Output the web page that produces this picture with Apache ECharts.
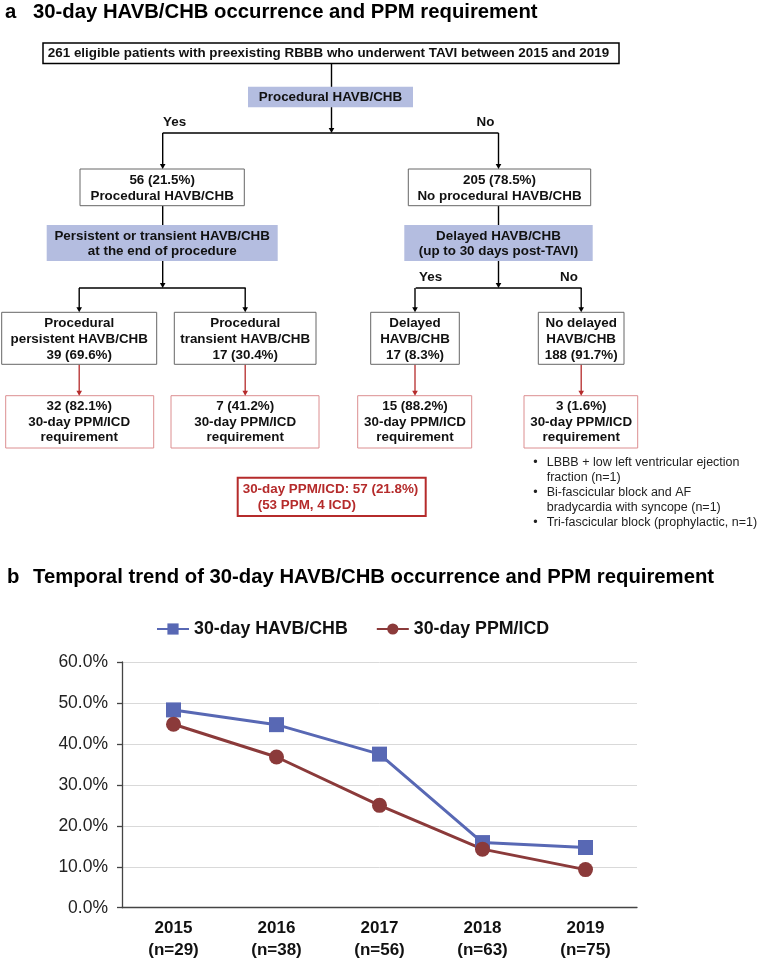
<!DOCTYPE html>
<html><head><meta charset="utf-8">
<script src="https://cdn.jsdelivr.net/npm/echarts@6/dist/echarts.min.js"></script>
<style>html,body{margin:0;padding:0;background:#fff}#main{width:759px;height:960px}</style>
</head><body><div id="main"></div>
<script>
// ---------- DATA ----------
const categories = ['2015', '2016', '2017', '2018', '2019'];
const sampleSizes = ['(n=29)', '(n=38)', '(n=56)', '(n=63)', '(n=75)'];
const havbChb = [48.3, 44.7, 37.5, 15.9, 14.7];
const ppmIcd = [44.8, 36.8, 25.0, 14.3, 9.3];
const seriesNames = ['30-day HAVB/CHB', '30-day PPM/ICD'];
const yMin = 0, yMax = 60, yInterval = 10;

const panelLetters = ['a', 'b'];
const panelTitles = ['30-day HAVB/CHB occurrence and PPM requirement',
  'Temporal trend of 30-day HAVB/CHB occurrence and PPM requirement'];
const topBoxText = '261 eligible patients with preexisting RBBB who underwent TAVI between 2015 and 2019';
const decision1 = 'Procedural HAVB/CHB';
const branchLabels = ['Yes', 'No'];
const level2 = [['56 (21.5%)', 'Procedural HAVB/CHB'], ['205 (78.5%)', 'No procedural HAVB/CHB']];
const decision2 = [['Persistent or transient HAVB/CHB', 'at the end of procedure'],
  ['Delayed HAVB/CHB', '(up to 30 days post-TAVI)']];
const level3 = [['Procedural', 'persistent HAVB/CHB', '39 (69.6%)'],
  ['Procedural', 'transient HAVB/CHB', '17 (30.4%)'],
  ['Delayed', 'HAVB/CHB', '17 (8.3%)'],
  ['No delayed', 'HAVB/CHB', '188 (91.7%)']];
const outcomes = [['32 (82.1%)', '30-day PPM/ICD', 'requirement'],
  ['7 (41.2%)', '30-day PPM/ICD', 'requirement'],
  ['15 (88.2%)', '30-day PPM/ICD', 'requirement'],
  ['3 (1.6%)', '30-day PPM/ICD', 'requirement']];
const summaryLines = ['30-day PPM/ICD: 57 (21.8%)', '(53 PPM, 4 ICD)'];
const notes = [['LBBB + low left ventricular ejection', 'fraction (n=1)'],
  ['Bi-fascicular block and AF', 'bradycardia with syncope (n=1)'],
  ['Tri-fascicular block (prophylactic, n=1)']];

// ---------- STYLE ----------
const FF = '"Liberation Sans", Arial, Helvetica, sans-serif';
const BLUE = '#5868b4', BROWN = '#8b3a3a';
const LAV = '#b4bde0', RED = '#b52b2b', PINK = '#dc8e90';
const TXT = '#111';

const g = [];
function rect(x, y, w, h, fill, stroke, lw) {
  g.push({type: 'rect', shape: {x, y, width: w, height: h},
    style: {fill: fill || '#fff', stroke: stroke || null, lineWidth: lw || 0}, z: 2});
}
function text(x, y, s, font, align, color, z) {
  g.push({type: 'text', x, y, z: z || 5,
    style: {text: s, font, textAlign: align || 'center', textVerticalAlign: 'middle', fill: color || TXT}});
}
function lines(cx, ys, arr, font, color) {
  arr.forEach((s, i) => text(cx, ys[i], s, font, 'center', color));
}
function seg(x1, y1, x2, y2, color, lw) {
  g.push({type: 'line', shape: {x1, y1, x2, y2}, style: {stroke: color, lineWidth: lw || 1.4}, z: 1});
}
function arrowDown(x, y1, y2, color, lw) {
  seg(x, y1, x, y2 - 3, color, lw);
  g.push({type: 'polygon', shape: {points: [[x - 2.8, y2 - 5], [x + 2.8, y2 - 5], [x, y2]]},
    style: {fill: color}, z: 3});
}

const FB = 'bold 13.4px ' + FF;
const FT = 'bold 20.3px ' + FF;
// panel titles
text(5, 12, panelLetters[0], FT, 'left', '#000');
text(33, 12, panelTitles[0], FT, 'left', '#000');
text(7, 577, panelLetters[1], FT, 'left', '#000');
text(33, 577, panelTitles[1], FT, 'left', '#000');

// top box
rect(43, 43, 576, 20.5, '#fff', '#000', 1.5);
text(328.5, 53.5, topBoxText, 'bold 13.4px ' + FF);
// trunk
arrowDown(331.5, 64, 133, '#000');
rect(248, 86.7, 165, 20.6, LAV);
text(330.5, 97, decision1, FB);
seg(162.7, 133, 498.5, 133, '#000');
text(163, 122.5, branchLabels[0], FB, 'left');
text(476.5, 122.5, branchLabels[1], FB, 'left');
arrowDown(162.7, 133, 169, '#000');
arrowDown(498.5, 133, 169, '#000');

// level 2
const l2 = [[80, 164.3], [408.3, 182.4]];
l2.forEach((b, i) => {
  rect(b[0], 169, b[1], 36.7, '#fff', '#666', 1);
  lines(b[0] + b[1] / 2, [180, 196], level2[i], FB);
});
arrowDown(162.7, 206, 288, '#000');
arrowDown(498.5, 206, 288, '#000');
const d2 = [[46.7, 231], [404.3, 188.4]];
d2.forEach((b, i) => {
  rect(b[0], 225, b[1], 36, LAV);
  lines(b[0] + b[1] / 2, [236, 251.5], decision2[i], FB);
});
seg(79, 288, 245.7, 288, '#000');
seg(415.7, 288, 581.5, 288, '#000');
text(419, 277.5, branchLabels[0], FB, 'left');
text(560, 277.5, branchLabels[1], FB, 'left');

// level 3
const l3 = [[1.7, 155], [174.3, 141.7], [370.7, 88.6], [538.3, 85.7]];
const cols = [79.2, 245.2, 415, 581.2];
cols.forEach((cx, i) => arrowDown(cx, 288, 312.3, '#000'));
l3.forEach((b, i) => {
  rect(b[0], 312.3, b[1], 52, '#fff', '#666', 1);
  lines(cols[i], [323, 339.2, 355.3], level3[i], FB);
});
// outcomes
const oc = [[5.7, 148], [171, 148], [357.7, 114], [524, 113.7]];
oc.forEach((b, i) => {
  arrowDown(cols[i], 364.5, 395.7, RED, 1.3);
  rect(b[0], 395.7, b[1], 52.3, '#fff', PINK, 1);
  lines(cols[i], [406.2, 421.9, 437.5], outcomes[i], FB);
});
// summary
rect(237.7, 477.7, 188, 38.3, '#fff', RED, 2);
text(242.7, 489.5, summaryLines[0], FB, 'left', RED);
text(257.7, 505.8, summaryLines[1], FB, 'left', RED);
// notes
const FN = '12.5px ' + FF;
let ny = 462.3;
notes.forEach(n => {
  text(535.5, ny, '\u2022', FN, 'center', '#222');
  n.forEach(s => { text(546.7, ny, s, FN, 'left', '#222'); ny += 15; });
});

// ---------- CHART ----------
const chart = echarts.init(document.getElementById('main'), null, {renderer: 'canvas'});
chart.setOption({
  animation: false,
  backgroundColor: '#fff',
  graphic: g,
  legend: {
    left: 151, top: 615,
    itemWidth: 32, itemHeight: 14, itemGap: 28,
    textStyle: {fontFamily: FF, fontWeight: 'bold', fontSize: 17.8, color: '#111'},
    data: seriesNames
  },
  grid: {left: 122, right: 122, top: 662, bottom: 52.3, outerBoundsMode: 'none', containLabel: false},
  xAxis: {
    type: 'category', data: categories,
    axisLine: {lineStyle: {color: '#444', width: 1.3}},
    axisTick: {length: 5, lineStyle: {color: '#444', width: 1.3}},
    axisLabel: {
      margin: 10, fontFamily: FF, fontWeight: 'bold', fontSize: 17, color: '#111', lineHeight: 22,
      formatter: (v, i) => v + '\n' + sampleSizes[i]
    }
  },
  yAxis: {
    type: 'value', min: yMin, max: yMax, interval: yInterval,
    axisLine: {show: true, lineStyle: {color: '#444', width: 1.3}},
    axisTick: {show: true, length: 5, lineStyle: {color: '#444', width: 1.3}},
    splitLine: {lineStyle: {color: '#d9d9d9', width: 1}},
    axisLabel: {margin: 14, fontFamily: FF, fontSize: 17.5, color: '#222',
      formatter: v => v.toFixed(1) + '%'}
  },
  series: [
    {name: seriesNames[0], type: 'line', data: havbChb, symbol: 'rect', symbolSize: 15,
      itemStyle: {color: BLUE}, lineStyle: {color: BLUE, width: 3}},
    {name: seriesNames[1], type: 'line', data: ppmIcd, symbol: 'circle', symbolSize: 15,
      itemStyle: {color: BROWN}, lineStyle: {color: BROWN, width: 3}}
  ]
});
</script></body></html>
